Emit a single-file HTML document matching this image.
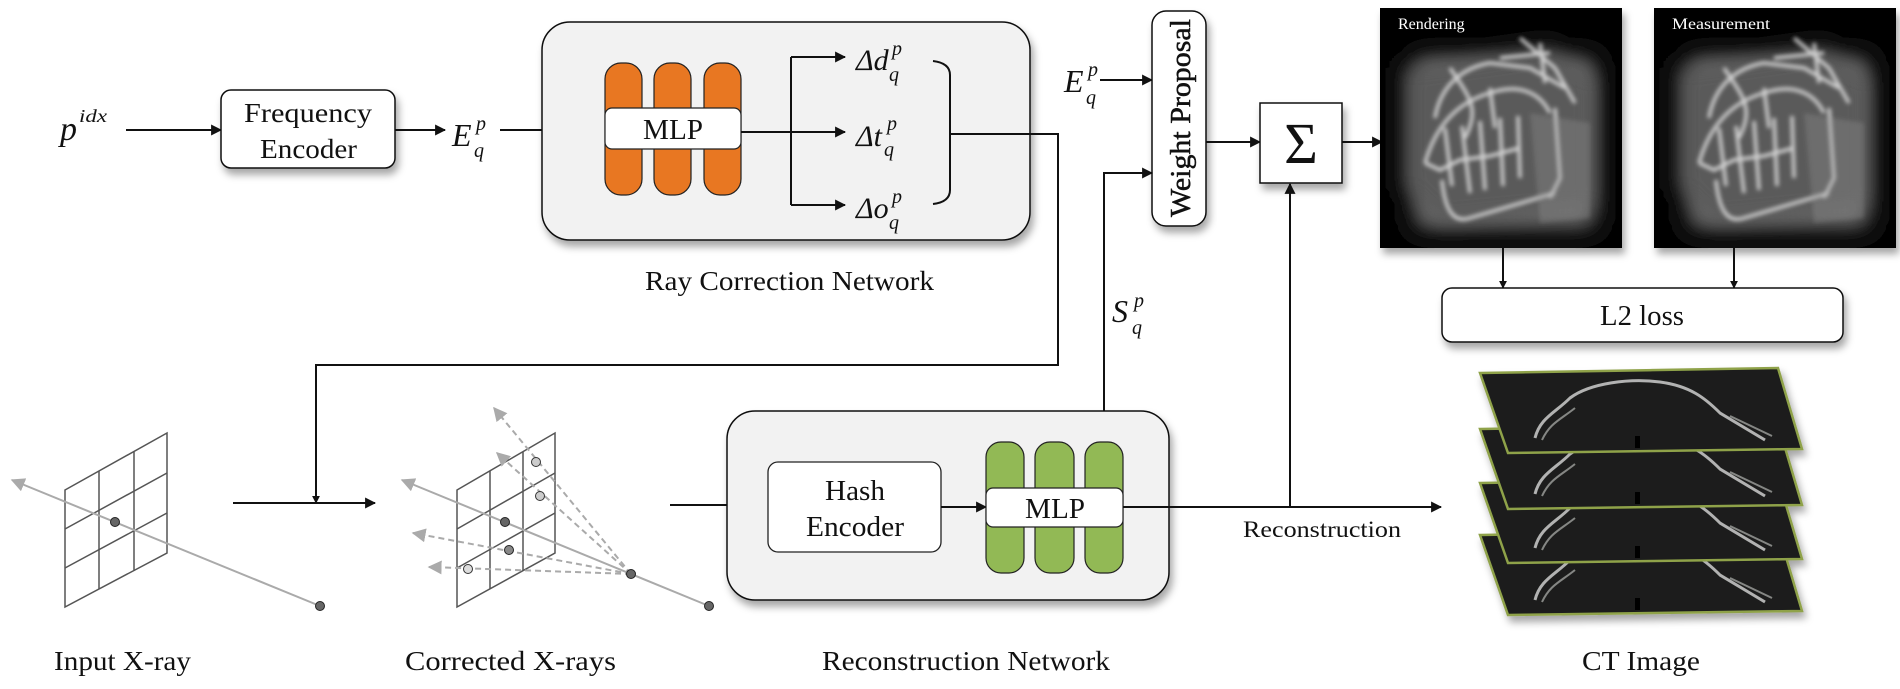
<!DOCTYPE html>
<html><head><meta charset="utf-8"><style>
html,body{margin:0;padding:0;background:#fff;}
svg{display:block;}
text{font-family:"Liberation Serif",serif;fill:#111;}
</style></head><body>
<svg width="1900" height="689" viewBox="0 0 1900 689" xmlns="http://www.w3.org/2000/svg">
<defs>
<marker id="ah" viewBox="0 0 10 10" refX="9" refY="5" markerWidth="8" markerHeight="8" markerUnits="userSpaceOnUse" orient="auto"><path d="M0,0 L10,5 L0,10 z" fill="#111"/></marker>
<marker id="ahb" viewBox="0 0 10 10" refX="9" refY="5" markerWidth="11" markerHeight="11" markerUnits="userSpaceOnUse" orient="auto"><path d="M0,0 L10,5 L0,10 z" fill="#111"/></marker>
<marker id="ag" viewBox="0 0 10 10" refX="9" refY="5" markerWidth="14" markerHeight="14" markerUnits="userSpaceOnUse" orient="auto"><path d="M0,0 L10,5 L0,10 z" fill="#aaa"/></marker>
<filter id="sh" x="-10%" y="-10%" width="130%" height="140%"><feDropShadow dx="3" dy="6" stdDeviation="4" flood-color="#000" flood-opacity="0.35"/></filter>
<filter id="bl" x="-20%" y="-20%" width="140%" height="140%"><feGaussianBlur stdDeviation="2"/></filter>
<filter id="bl2" x="-20%" y="-20%" width="140%" height="140%"><feGaussianBlur stdDeviation="10"/></filter>
<g id="skull">
  <rect width="242" height="240" fill="#050505"/>
  <rect x="35" y="50" width="180" height="170" rx="10" fill="#6a6a6a" filter="url(#bl2)"/>
  <path d="M25,60 L170,40 L215,70 L215,200 L60,215 L25,180 z" fill="#5a5a5a" filter="url(#bl2)"/>
  <g fill="none" stroke="#e0e0e0" stroke-width="3.5" filter="url(#bl)" opacity="0.9">
    <path d="M45,155 C55,120 75,95 110,85 C140,75 160,85 170,105"/>
    <path d="M55,110 C60,80 80,60 110,55 L150,60 L185,80"/>
    <path d="M45,155 L60,162 L80,152 L110,148 L140,140"/>
    <path d="M62,172 C65,205 75,215 90,210 L175,185"/>
    <path d="M65,120 L72,178 M82,118 L90,185 M100,113 L105,182 M120,110 L123,178 M138,108 L140,170"/>
    <path d="M140,30 L175,60 L195,95 M120,50 L170,45 M160,35 L165,75"/>
    <path d="M70,60 C90,90 100,100 85,130 M110,80 L115,120"/>
    <path d="M175,100 L180,170 L170,190"/>
  </g>
  <path d="M150,105 L210,115 L210,210 L160,215 z" fill="#999" opacity="0.3" filter="url(#bl)"/>
</g>
<g id="slice">
  <path d="M0,5 L298,0 L322,81 L28,85 z" fill="#1c1f1b" stroke="#8fa24a" stroke-width="2.5"/>
  <path d="M55,70 C60,50 75,45 90,30 C110,15 150,10 180,14 C210,18 225,30 240,45 L285,72" fill="none" stroke="#ccc" stroke-width="3" opacity="0.85"/>
  <path d="M62,72 C70,55 80,52 95,40 M250,48 L292,68" fill="none" stroke="#ccc" stroke-width="2" opacity="0.6"/>
  <rect x="155" y="68" width="5" height="12" fill="#000"/>
</g>
</defs>

<!-- Top row -->
<text x="60" y="140" font-size="34" font-style="italic">p</text>
<text x="79" y="122" font-size="18" font-style="italic" textLength="28" lengthAdjust="spacingAndGlyphs">idx</text>
<line x1="126" y1="130" x2="221" y2="130" stroke="#111" stroke-width="2" marker-end="url(#ahb)"/>
<rect x="221" y="90" width="174" height="78" rx="10" fill="#fff" stroke="#111" stroke-width="1.5" filter="url(#sh)"/>
<text x="244" y="122" font-size="27" textLength="128" lengthAdjust="spacingAndGlyphs">Frequency</text>
<text x="260" y="158" font-size="27" textLength="97" lengthAdjust="spacingAndGlyphs">Encoder</text>
<line x1="395" y1="130" x2="445" y2="130" stroke="#111" stroke-width="2" marker-end="url(#ahb)"/>
<text x="452" y="146" font-size="32" font-style="italic">E</text>
<text x="474" y="157" font-size="20" font-style="italic">q</text>
<text x="476" y="130" font-size="20" font-style="italic">p</text>
<line x1="500" y1="130" x2="603" y2="130" stroke="#111" stroke-width="2" marker-end="url(#ahb)"/>

<rect x="542" y="22" width="488" height="218" rx="28" fill="#f2f2f2" stroke="#111" stroke-width="1.5" filter="url(#sh)"/>
<rect x="605" y="63" width="37" height="132" rx="16" fill="#e87722" stroke="#222" stroke-width="1.2"/>
<rect x="654" y="63" width="37" height="132" rx="16" fill="#e87722" stroke="#222" stroke-width="1.2"/>
<rect x="704" y="63" width="37" height="132" rx="16" fill="#e87722" stroke="#222" stroke-width="1.2"/>
<rect x="605" y="108" width="136" height="41" rx="7" fill="#fff" stroke="#222" stroke-width="1.2"/>
<text x="643" y="139" font-size="28" textLength="60" lengthAdjust="spacingAndGlyphs">MLP</text>
<path d="M741,132 L791,132 M791,57 L791,205" stroke="#111" stroke-width="2" fill="none"/>
<line x1="791" y1="57" x2="845" y2="57" stroke="#111" stroke-width="2" marker-end="url(#ahb)"/>
<line x1="791" y1="132" x2="845" y2="132" stroke="#111" stroke-width="2" marker-end="url(#ahb)"/>
<line x1="791" y1="205" x2="845" y2="205" stroke="#111" stroke-width="2" marker-end="url(#ahb)"/>
<text x="856" y="70" font-size="30" font-style="italic">Δd</text>
<text x="889" y="81" font-size="20" font-style="italic">q</text><text x="892" y="55" font-size="20" font-style="italic">p</text>
<text x="856" y="146" font-size="30" font-style="italic">Δt</text>
<text x="884" y="156" font-size="20" font-style="italic">q</text><text x="887" y="130" font-size="20" font-style="italic">p</text>
<text x="856" y="218" font-size="30" font-style="italic">Δo</text>
<text x="889" y="229" font-size="20" font-style="italic">q</text><text x="892" y="203" font-size="20" font-style="italic">p</text>
<path d="M933,61 Q950,63 950,75 L950,190 Q950,202 933,204" fill="none" stroke="#111" stroke-width="2"/>
<path d="M950,134 L1058,134 L1058,365 L316,365 L316,503" fill="none" stroke="#111" stroke-width="2" marker-end="url(#ah)"/>
<text x="645" y="290" font-size="27" textLength="289" lengthAdjust="spacingAndGlyphs">Ray Correction Network</text>

<!-- Weight proposal -->
<text x="1064" y="92" font-size="32" font-style="italic">E</text>
<text x="1086" y="104" font-size="20" font-style="italic">q</text><text x="1088" y="76" font-size="20" font-style="italic">p</text>
<line x1="1100" y1="80" x2="1152" y2="80" stroke="#111" stroke-width="2" marker-end="url(#ahb)"/>
<rect x="1152" y="11" width="54" height="215" rx="14" fill="#fff" stroke="#111" stroke-width="1.5" filter="url(#sh)"/>
<text transform="translate(1190,118) rotate(-90)" font-size="29" text-anchor="middle" textLength="198" lengthAdjust="spacingAndGlyphs" stroke="#111" stroke-width="0.5">Weight Proposal</text>
<path d="M1104,442 L1104,173 L1152,173" fill="none" stroke="#111" stroke-width="2" marker-end="url(#ahb)"/>
<line x1="1206" y1="142" x2="1260" y2="142" stroke="#111" stroke-width="2" marker-end="url(#ahb)"/>
<rect x="1260" y="103" width="82" height="80" fill="#fff" stroke="#111" stroke-width="1.5" filter="url(#sh)"/>
<text x="1301" y="163" font-size="58" text-anchor="middle">Σ</text>
<line x1="1342" y1="142" x2="1382" y2="142" stroke="#111" stroke-width="2" marker-end="url(#ahb)"/>
<line x1="1290" y1="507" x2="1290" y2="184" stroke="#111" stroke-width="2" marker-end="url(#ahb)"/>
<text x="1112" y="322" font-size="32" font-style="italic">S</text>
<text x="1132" y="334" font-size="20" font-style="italic">q</text><text x="1134" y="307" font-size="20" font-style="italic">p</text>

<!-- X-ray images -->
<g filter="url(#sh)"><use href="#skull" x="1380" y="8"/></g>
<text x="1398" y="29" font-size="16" style="fill:#fff">Rendering</text>
<g filter="url(#sh)"><use href="#skull" x="1654" y="8"/></g>
<text x="1672" y="29" font-size="16" style="fill:#fff" textLength="98" lengthAdjust="spacingAndGlyphs">Measurement</text>
<line x1="1503" y1="248" x2="1503" y2="288" stroke="#111" stroke-width="2" marker-end="url(#ah)"/>
<line x1="1734" y1="248" x2="1734" y2="288" stroke="#111" stroke-width="2" marker-end="url(#ah)"/>
<rect x="1442" y="288" width="401" height="54" rx="10" fill="#fff" stroke="#111" stroke-width="1.5" filter="url(#sh)"/>
<text x="1600" y="325" font-size="28" textLength="84" lengthAdjust="spacingAndGlyphs">L2 loss</text>

<!-- Input X-ray -->
<g stroke="#555" stroke-width="1.5" fill="none">
<path d="M65,490 L167,433 L167,553 L65,607 z"/>
<path d="M99,471 L99,589 M134,452 L134,571"/>
<path d="M65,529 L167,473 M65,568 L167,513"/>
</g>
<line x1="320" y1="606" x2="12" y2="480" stroke="#aaa" stroke-width="2" marker-end="url(#ag)"/>
<circle cx="115" cy="522" r="4.5" fill="#666" stroke="#222"/>
<circle cx="320" cy="606" r="4.5" fill="#666" stroke="#222"/>
<line x1="233" y1="503" x2="375" y2="503" stroke="#111" stroke-width="2" marker-end="url(#ahb)"/>
<text x="54" y="670" font-size="27" textLength="137" lengthAdjust="spacingAndGlyphs">Input X-ray</text>

<!-- Corrected X-rays -->
<g stroke="#555" stroke-width="1.5" fill="none">
<path d="M457,490 L555,433 L555,553 L457,607 z"/>
<path d="M490,471 L490,589 M523,452 L523,571"/>
<path d="M457,529 L555,473 M457,568 L555,513"/>
</g>
<line x1="709" y1="606" x2="402" y2="480" stroke="#aaa" stroke-width="2" marker-end="url(#ag)"/>
<g stroke="#aaa" stroke-width="2" stroke-dasharray="6,4">
<line x1="631" y1="574" x2="494" y2="408" marker-end="url(#ag)"/>
<line x1="631" y1="574" x2="497" y2="453" marker-end="url(#ag)"/>
<line x1="631" y1="574" x2="413" y2="533" marker-end="url(#ag)"/>
<line x1="631" y1="574" x2="429" y2="567" marker-end="url(#ag)"/>
</g>
<circle cx="536" cy="462" r="4.5" fill="#ccc" stroke="#333"/>
<circle cx="540" cy="496" r="4.5" fill="#ccc" stroke="#333"/>
<circle cx="505" cy="522" r="4.5" fill="#666" stroke="#222"/>
<circle cx="509" cy="550" r="4.5" fill="#888" stroke="#222"/>
<circle cx="468" cy="569" r="4.5" fill="#ddd" stroke="#333"/>
<circle cx="631" cy="574" r="4.5" fill="#666" stroke="#222"/>
<circle cx="709" cy="606" r="4.5" fill="#666" stroke="#222"/>
<text x="405" y="670" font-size="27" textLength="211" lengthAdjust="spacingAndGlyphs">Corrected  X-rays</text>

<!-- Reconstruction Network -->
<line x1="670" y1="505" x2="767" y2="505" stroke="#111" stroke-width="2" marker-end="url(#ahb)"/>
<rect x="727" y="411" width="442" height="189" rx="28" fill="#f2f2f2" stroke="#111" stroke-width="1.5" filter="url(#sh)"/>
<rect x="768" y="462" width="173" height="90" rx="10" fill="#fff" stroke="#222" stroke-width="1.3"/>
<text x="825" y="500" font-size="28" textLength="60" lengthAdjust="spacingAndGlyphs">Hash</text>
<text x="806" y="536" font-size="28" textLength="98" lengthAdjust="spacingAndGlyphs">Encoder</text>
<line x1="941" y1="507" x2="986" y2="507" stroke="#111" stroke-width="2" marker-end="url(#ahb)"/>
<rect x="986" y="442" width="38" height="131" rx="15" fill="#92b955" stroke="#222" stroke-width="1.2"/>
<rect x="1035" y="442" width="39" height="131" rx="15" fill="#92b955" stroke="#222" stroke-width="1.2"/>
<rect x="1085" y="442" width="38" height="131" rx="15" fill="#92b955" stroke="#222" stroke-width="1.2"/>
<rect x="986" y="488" width="137" height="39" rx="7" fill="#fff" stroke="#222" stroke-width="1.2"/>
<text x="1025" y="518" font-size="28" textLength="60" lengthAdjust="spacingAndGlyphs">MLP</text>
<line x1="1123" y1="507" x2="1441" y2="507" stroke="#111" stroke-width="2" marker-end="url(#ahb)"/>
<text x="822" y="670" font-size="27" textLength="288" lengthAdjust="spacingAndGlyphs">Reconstruction Network</text>
<text x="1243" y="537" font-size="23" textLength="158" lengthAdjust="spacingAndGlyphs">Reconstruction</text>

<!-- CT slices -->
<g filter="url(#sh)">
<use href="#slice" x="1480" y="530"/>
<use href="#slice" x="1480" y="478"/>
<use href="#slice" x="1480" y="424"/>
<use href="#slice" x="1480" y="368"/>
</g>
<text x="1582" y="670" font-size="27" textLength="118" lengthAdjust="spacingAndGlyphs">CT Image</text>
</svg>
</body></html>
